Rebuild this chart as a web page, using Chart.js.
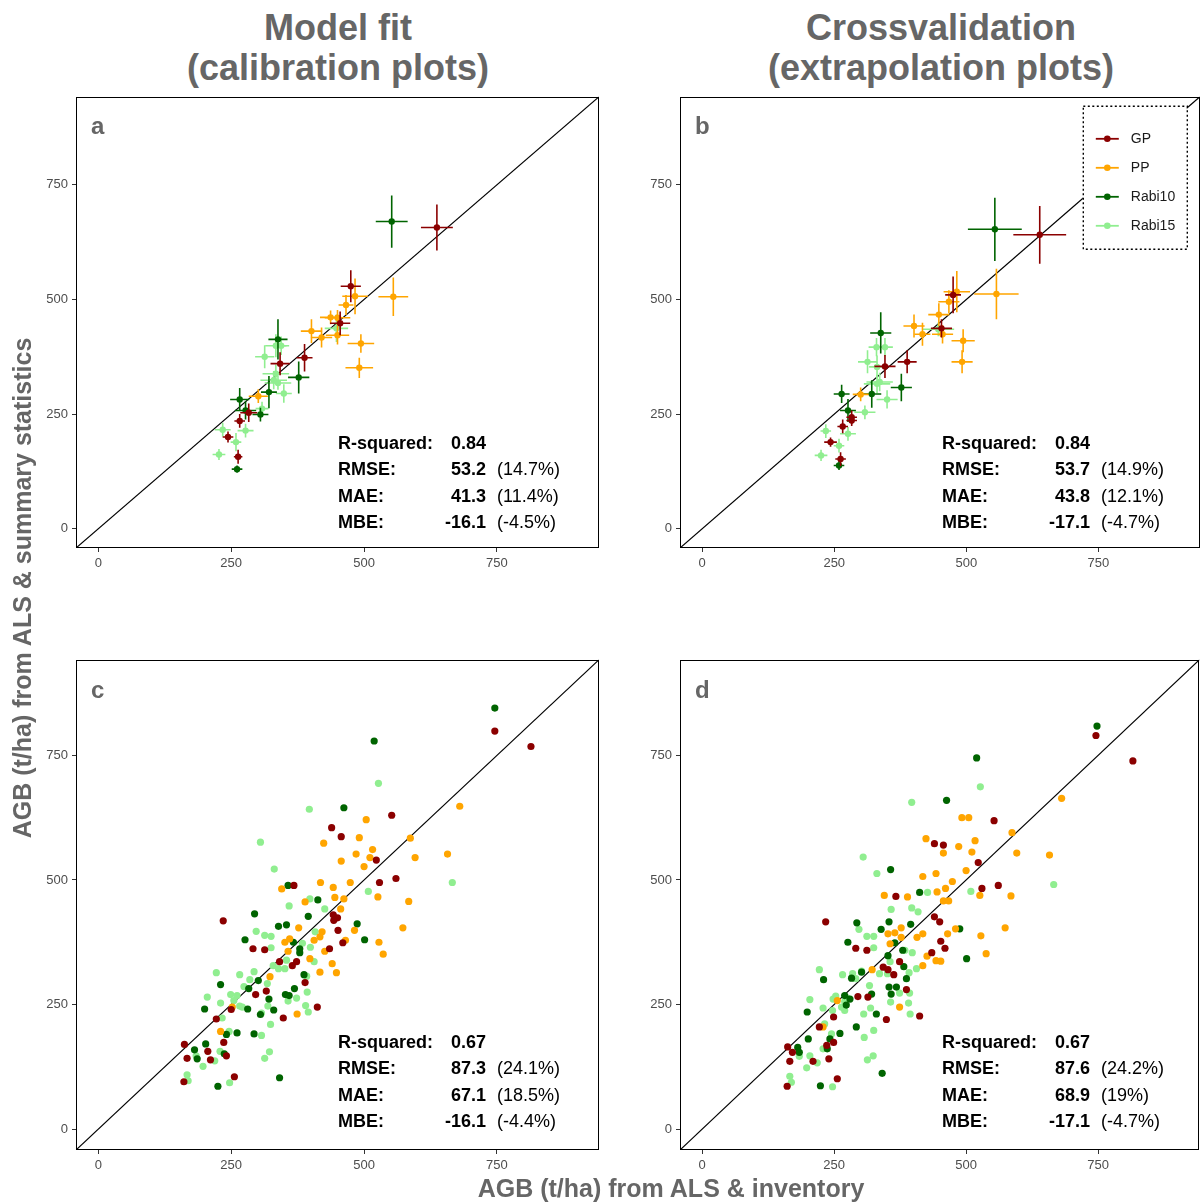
<!DOCTYPE html>
<html>
<head>
<meta charset="utf-8">
<script src="https://cdn.jsdelivr.net/npm/chart.js@4.4.1/dist/chart.umd.min.js"></script>
<style>
  html, body { margin: 0; padding: 0; background: #fff; }
  #page { position: relative; width: 1203px; height: 1203px; overflow: hidden;
          font-family: "Liberation Sans", Arial, Helvetica, sans-serif; }
  .title { position: absolute; width: 600px; text-align: center; font-weight: bold;
           font-size: 36px; line-height: 40px; color: #666; }
  .cv { position: absolute; }
  .axt { position: absolute; font-weight: bold; font-size: 25px; line-height: 28px;
         color: #666; text-align: center; white-space: nowrap; }
</style>
</head>
<body>
<div id="page">
  <div class="title" style="left:38px;top:8px;">Model fit<br>(calibration plots)</div>
  <div class="title" style="left:641px;top:8px;">Crossvalidation<br>(extrapolation plots)</div>

  <div class="cv" style="left:30px;top:85px;"><canvas id="pa" width="575" height="500"></canvas></div>
  <div class="cv" style="left:633px;top:85px;"><canvas id="pb" width="570" height="500"></canvas></div>
  <div class="cv" style="left:30px;top:648px;"><canvas id="pc" width="575" height="537"></canvas></div>
  <div class="cv" style="left:633px;top:648px;"><canvas id="pd" width="570" height="537"></canvas></div>

  <div class="axt" style="left:271px;top:1174px;width:800px;">AGB (t/ha) from ALS &amp; inventory</div>
  <div class="axt" style="left:-378px;top:574px;width:800px;transform:rotate(-90deg);">AGB (t/ha) from ALS &amp; summary statistics</div>
</div>

<script>
// ---- groups and colours ----
const groups = ['GP', 'PP', 'Rabi10', 'Rabi15'];
const groupColors = ['#8B0000', '#FFA500', '#006400', '#90EE90'];

// ---- axes ----
const axisMin = -42;
const axisMax = 942;
const tickValues = [0, 250, 500, 750];
const tickLabels = ['0', '250', '500', '750'];

// ---- stand level, model fit: [inventory, predicted, x error, y error] ----
const standFitGP = [[637,657,30,50],[475,529,19,35],[455,448,19,26],[388,373,15,30],[342,360,18,25],
  [283,253,16,20],[266,235,10,15],[244,200,10,12],[263,157,8,15]];
const standFitPP = [[483,507,24,39],[555,506,28,42],[466,488,14,22],[450,460,24,17],[437,461,20,15],
  [450,422,22,20],[401,431,20,26],[420,417,20,22],[494,404,25,20],[491,351,26,22],[301,289,18,15]];
const standFitRabi10 = [[552,670,30,57],[338,413,18,44],[377,330,20,35],[321,298,15,35],[266,282,18,25],
  [277,258,20,20],[305,249,15,15],[261,130,10,8]];
const standFitRabi15 = [[448,437,22,30],[334,399,20,25],[344,399,15,20],[313,375,18,25],[334,338,25,20],
  [330,324,25,20],[338,318,25,15],[349,295,15,20],[308,262,12,15],[234,216,15,15],[277,214,15,15],
  [259,189,10,20],[227,162,12,12]];

// ---- stand level, crossvalidation ----
const standCvGP = [[639,641,50,63],[475,510,15,40],[453,437,20,20],[388,364,18,25],[346,354,20,25],
  [283,243,10,15],[283,236,10,12],[266,223,10,15],[243,189,12,10],[262,152,10,15]];
const standCvPP = [[557,512,42,55],[482,517,25,45],[467,495,20,25],[448,467,20,25],[455,424,20,20],
  [401,442,20,25],[417,424,15,25],[494,410,22,25],[492,364,20,25],[300,293,15,15]];
const standCvRabi10 = [[554,653,51,69],[338,427,20,45],[377,308,20,30],[321,294,18,30],[264,294,15,20],
  [276,258,15,25],[259,138,10,10]];
const standCvRabi15 = [[447,435,30,15],[330,396,15,20],[346,396,15,20],[313,364,18,25],[331,353,15,25],
  [336,320,25,20],[331,316,25,20],[350,282,20,20],[308,254,20,15],[234,213,10,15],[276,207,15,15],
  [259,181,10,15],[225,160,12,12]];

// ---- plot level, model fit: [inventory, predicted] ----
const plotFitGP = [[439,605],[457,587],[368,489],[746,799],[814,768],[552,630],[523,540],[529,495],[560,503],
  [235,418],[442,430],[450,424],[443,419],[451,399],[460,374],[291,362],[313,360],[435,362],[341,336],
  [365,328],[373,336],[389,294],[316,277],[296,270],[250,240],[412,245],[222,221],[348,223],[236,174],
  [162,170],[206,156],[241,147],[167,142],[211,139],[161,95],[256,105]];
const plotFitPP = [[491,585],[424,574],[485,552],[457,538],[418,495],[474,495],[345,482],[442,485],[445,465],
  [462,462],[389,456],[456,442],[680,648],[504,621],[587,584],[516,561],[511,545],[500,527],[596,545],
  [657,552],[526,466],[584,457],[482,399],[573,404],[528,375],[536,351],[377,404],[421,396],[417,386],
  [406,379],[351,375],[360,382],[465,379],[357,357],[426,357],[398,342],[440,332],[448,314],[417,315],
  [323,306],[252,245],[374,231],[230,196]];
const plotFitRabi10 = [[462,645],[357,489],[413,460],[746,845],[519,779],[487,412],[501,380],[294,432],[395,427],
  [339,407],[354,410],[276,380],[367,375],[379,362],[379,354],[387,310],[301,298],[230,290],[283,282],
  [369,282],[352,270],[359,268],[321,261],[200,241],[281,241],[330,239],[305,230],[241,190],[261,193],
  [293,191],[181,159],[202,171],[237,151],[186,141],[341,103],[225,86]];
const plotFitRabi15 = [[397,642],[305,576],[331,522],[398,462],[359,448],[426,442],[527,694],[666,495],[508,477],
  [297,397],[313,389],[325,387],[408,396],[384,373],[325,364],[399,365],[354,339],[406,336],[329,328],
  [339,322],[351,322],[222,314],[266,310],[293,316],[392,307],[285,300],[318,292],[274,286],[393,275],
  [249,270],[261,268],[205,265],[373,263],[357,257],[230,253],[255,258],[266,247],[271,245],[319,247],
  [390,248],[395,235],[307,233],[233,223],[324,210],[246,196],[307,188],[229,156],[184,147],[219,137],
  [322,155],[313,142],[197,126],[167,109],[169,97],[247,93]];

// ---- plot level, crossvalidation ----
const plotCvGP = [[440,573],[457,570],[367,467],[746,790],[816,739],[553,619],[523,535],[530,483],[561,489],
  [234,416],[440,426],[450,416],[452,377],[460,363],[435,354],[291,363],[312,359],[374,336],[363,310],
  [343,325],[352,320],[387,280],[295,266],[314,265],[249,225],[349,220],[412,227],[222,205],[249,174],
  [162,165],[171,154],[236,168],[210,136],[240,141],[166,136],[161,86],[256,101]];
const plotCvPP = [[424,583],[457,554],[486,567],[492,625],[505,625],[418,507],[443,513],[474,497],[345,469],
  [389,466],[445,476],[461,483],[457,458],[467,458],[681,664],[587,595],[517,579],[511,556],[500,519],
  [596,554],[658,550],[526,469],[585,468],[480,402],[574,404],[528,388],[538,352],[377,404],[352,392],
  [365,394],[465,392],[377,385],[407,385],[418,392],[356,372],[426,347],[443,338],[452,337],[418,328],
  [322,320],[256,258],[374,245],[229,205]];
const plotCvRabi10 = [[463,660],[357,521],[412,475],[748,809],[520,745],[488,402],[501,342],[293,414],[354,416],
  [395,411],[339,401],[276,375],[365,374],[380,359],[352,348],[382,326],[387,302],[302,315],[283,303],
  [230,300],[354,285],[368,285],[358,271],[321,271],[270,268],[280,261],[273,249],[199,235],[330,231],
  [292,205],[261,192],[201,181],[242,181],[181,164],[184,154],[237,161],[341,112],[224,87]];
const plotCvRabi15 = [[397,656],[305,546],[331,513],[427,475],[397,444],[358,441],[409,436],[527,687],[666,491],
  [509,477],[297,401],[312,387],[325,387],[325,364],[384,359],[398,354],[356,336],[336,312],[351,312],
  [406,322],[392,314],[302,317],[285,312],[222,320],[266,310],[291,302],[317,288],[374,273],[393,273],
  [204,260],[253,267],[248,261],[275,263],[270,256],[264,245],[270,238],[229,243],[247,238],[319,243],
  [306,231],[357,255],[391,253],[394,231],[232,211],[325,198],[245,191],[307,184],[229,161],[204,147],
  [184,146],[218,133],[324,147],[313,139],[198,123],[166,106],[169,94],[247,85]];

// ---- accuracy statistics: [value, relative value] ----
const statLabels = ['R-squared:', 'RMSE:', 'MAE:', 'MBE:'];
const statsStandFit = [['0.84', ''], ['53.2', '(14.7%)'], ['41.3', '(11.4%)'], ['-16.1', '(-4.5%)']];
const statsStandCv  = [['0.84', ''], ['53.7', '(14.9%)'], ['43.8', '(12.1%)'], ['-17.1', '(-4.7%)']];
const statsPlotFit  = [['0.67', ''], ['87.3', '(24.1%)'], ['67.1', '(18.5%)'], ['-16.1', '(-4.4%)']];
const statsPlotCv   = [['0.67', ''], ['87.6', '(24.2%)'], ['68.9', '(19%)'],   ['-17.1', '(-4.7%)']];

const FONT = '"Liberation Sans", Arial, Helvetica, sans-serif';

// Draws the panel frame, the panel letter, the statistics block and (optionally) the legend
function panelDecor(cfg) {
  return {
    id: 'panelDecor',
    beforeDatasetDraw(chart, args) {
      // horizontal / vertical error bars drawn just before their points
      if (!cfg.errors) return;
      const ds = chart.data.datasets[args.index];
      if (!ds.errBars) return;
      const xs = chart.scales.x, ys = chart.scales.y, a = chart.chartArea, ctx = chart.ctx;
      ctx.save();
      ctx.beginPath(); ctx.rect(a.left, a.top, a.right - a.left, a.bottom - a.top); ctx.clip();
      ctx.strokeStyle = ds.backgroundColor; ctx.lineWidth = 1.6; ctx.lineCap = 'butt';
      ds.data.forEach(p => {
        const px = xs.getPixelForValue(p.x), py = ys.getPixelForValue(p.y);
        ctx.beginPath();
        ctx.moveTo(xs.getPixelForValue(p.x - p.xe), py); ctx.lineTo(xs.getPixelForValue(p.x + p.xe), py);
        ctx.moveTo(px, ys.getPixelForValue(p.y - p.ye)); ctx.lineTo(px, ys.getPixelForValue(p.y + p.ye));
        ctx.stroke();
      });
      ctx.restore();
    },
    afterDraw(chart) {
      const a = chart.chartArea, ctx = chart.ctx;
      ctx.save();
      // frame
      ctx.strokeStyle = '#000'; ctx.lineWidth = 1;
      ctx.strokeRect(Math.round(a.left) + 0.5, Math.round(a.top) + 0.5,
                     Math.round(a.right - a.left) - 1, Math.round(a.bottom - a.top) - 1);
      // panel letter
      ctx.fillStyle = '#666'; ctx.font = 'bold 24px ' + FONT;
      ctx.textBaseline = 'middle'; ctx.textAlign = 'left';
      ctx.fillText(cfg.letter, a.left + 15, a.top + cfg.letterDy);
      // statistics block
      cfg.stats.forEach((row, i) => {
        const y = a.bottom - cfg.statsBottom - (3 - i) * 26.4;
        ctx.fillStyle = '#000';
        ctx.font = 'bold 18px ' + FONT; ctx.textAlign = 'left';
        ctx.fillText(statLabels[i], a.left + 262, y);
        ctx.textAlign = 'right';
        ctx.fillText(row[0], a.left + 410, y);
        ctx.font = '18px ' + FONT; ctx.textAlign = 'left';
        ctx.fillText(row[1], a.left + 421, y);
      });
      // legend
      if (cfg.legend) {
        const bx = a.right - 117, by = a.top + 9, bw = 104, bh = 143;
        ctx.fillStyle = '#fff'; ctx.fillRect(bx, by, bw, bh);
        ctx.setLineDash([2, 2.5]); ctx.lineWidth = 1.4; ctx.strokeStyle = '#000';
        ctx.strokeRect(bx + 0.5, by + 0.5, bw, bh);
        ctx.setLineDash([]);
        groups.forEach((g, i) => {
          const y = by + 33 + i * 29;
          ctx.strokeStyle = groupColors[i]; ctx.lineWidth = 1.8;
          ctx.beginPath(); ctx.moveTo(bx + 13, y); ctx.lineTo(bx + 36, y); ctx.stroke();
          ctx.fillStyle = groupColors[i];
          ctx.beginPath(); ctx.arc(bx + 24.5, y, 3.3, 0, Math.PI * 2); ctx.fill();
          ctx.fillStyle = '#1a1a1a'; ctx.font = '14px ' + FONT;
          ctx.textAlign = 'left'; ctx.textBaseline = 'middle';
          ctx.fillText(g, bx + 48, y);
        });
      }
      ctx.restore();
    }
  };
}

function axisOptions(fitFn) {
  return {
    type: 'linear', min: axisMin, max: axisMax,
    afterBuildTicks: s => { s.ticks = tickValues.map(v => ({ value: v })); },
    afterFit: fitFn,
    ticks: { color: '#4D4D4D', font: { size: 13, family: FONT }, padding: 4, maxRotation: 0,
             callback: (v, i) => tickLabels[i] },
    grid: { drawOnChartArea: false, drawTicks: true, tickLength: 4, color: '#333', tickWidth: 1 },
    border: { display: false }
  };
}

function makePanel(id, series, cfg) {
  const datasets = [{
    label: '1:1', data: [{ x: axisMin - 30, y: axisMin - 30 }, { x: axisMax + 30, y: axisMax + 30 }],
    showLine: true, borderColor: '#000', borderWidth: 1.2, pointRadius: 0, order: 10, clip: 0
  }];
  series.forEach((rows, i) => {
    datasets.push({
      label: groups[i],
      data: rows.map(r => ({ x: r[0], y: r[1], xe: r[2] || 0, ye: r[3] || 0 })),
      backgroundColor: groupColors[i], borderColor: groupColors[i], borderWidth: 0,
      pointRadius: cfg.radius, pointHoverRadius: cfg.radius, order: 1, errBars: !!cfg.errors, clip: 0
    });
  });
  return new Chart(document.getElementById(id), {
    type: 'scatter',
    data: { datasets },
    options: {
      responsive: false, animation: false, events: [],
      layout: { padding: { left: 0, right: cfg.padRight, top: 2, bottom: 0 } },
      plugins: { legend: { display: false }, tooltip: { enabled: false } },
      scales: {
        x: axisOptions(s => { s.height = cfg.xAxisH; }),
        y: axisOptions(s => { s.width = cfg.yAxisW; })
      }
    },
    plugins: [panelDecor(cfg)]
  });
}

makePanel('pa', [standFitGP, standFitPP, standFitRabi10, standFitRabi15],
  { errors: true, radius: 3.2, padRight: 6, xAxisH: 37, yAxisW: 46, letter: 'a', letterDy: 31,
    stats: statsStandFit, statsBottom: 25, legend: false });
makePanel('pb', [standCvGP, standCvPP, standCvRabi10, standCvRabi15],
  { errors: true, radius: 3.2, padRight: 3, xAxisH: 37, yAxisW: 47, letter: 'b', letterDy: 31,
    stats: statsStandCv, statsBottom: 25, legend: true });
makePanel('pc', [plotFitGP, plotFitPP, plotFitRabi10, plotFitRabi15],
  { errors: false, radius: 3.6, padRight: 6, xAxisH: 35, yAxisW: 46, letter: 'c', letterDy: 32,
    stats: statsPlotFit, statsBottom: 28, legend: false });
makePanel('pd', [plotCvGP, plotCvPP, plotCvRabi10, plotCvRabi15],
  { errors: false, radius: 3.6, padRight: 3, xAxisH: 35, yAxisW: 47, letter: 'd', letterDy: 32,
    stats: statsPlotCv, statsBottom: 28, legend: false });
</script>
</body>
</html>
